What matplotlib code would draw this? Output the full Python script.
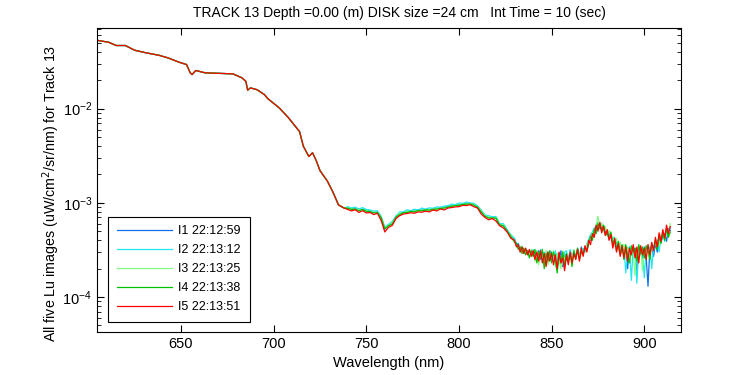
import numpy as np
import matplotlib.pyplot as plt
from matplotlib.ticker import LogLocator, FixedLocator

plt.rcParams['font.family'] = ['Liberation Sans', 'DejaVu Sans']

# Glatter Teil (alle fuenf Aufnahmen praktisch gleich)
wl_head = [605, 611, 615, 620, 625, 631, 638, 643, 649, 653, 655, 656, 658, 663, 678,
           683, 685, 686, 687.5, 691, 695, 697, 703, 708, 714, 716, 719, 721, 723, 725,
           729, 732, 735, 738]
lu_head = [0.0530, 0.0507, 0.0468, 0.0468, 0.0417, 0.0392, 0.0369, 0.0346, 0.0311, 0.0294,
           0.0240, 0.0230, 0.0254, 0.0240, 0.0234, 0.0212, 0.0195, 0.0157, 0.0166, 0.0159,
           0.0141, 0.0127, 0.0102, 0.0080, 0.0057, 0.0040, 0.0031, 0.0034, 0.0028, 0.0022,
           0.0017, 0.0013, 0.00095, 0.00088]

# 740-828 nm alle 2 nm, 830-914 nm jedes nm (Werte in 1e-6 uW/cm2/sr/nm)
wl_mid = list(range(740, 830, 2))
wl_tail = list(range(830, 915))

i1_mid = [885, 870, 870, 850, 855, 835, 820, 795, 800, 710, 525, 585, 610, 720, 765,
          800, 810, 820, 820, 840, 840, 850, 850, 870, 870, 895, 890, 920, 930, 950,
          950, 980, 980, 990, 960, 920, 810, 735, 695, 705, 685, 595, 575, 515, 445]
i2_mid = [910, 880, 900, 860, 890, 850, 840, 815, 825, 720, 550, 590, 635, 720, 800,
          800, 845, 825, 855, 840, 880, 855, 885, 875, 905, 895, 925, 930, 970, 955,
          995, 985, 1020, 995, 990, 925, 840, 740, 730, 710, 715, 600, 600, 515, 460]
i3_mid = [885, 860, 860, 845, 845, 825, 810, 795, 790, 705, 540, 575, 615, 700, 775,
          780, 815, 800, 820, 825, 840, 835, 850, 855, 870, 875, 890, 900, 930, 935,
          950, 965, 980, 975, 960, 905, 815, 725, 705, 690, 695, 585, 580, 500, 450]
i4_mid = [875, 850, 855, 825, 850, 810, 805, 780, 785, 695, 530, 570, 595, 705, 750,
          785, 790, 810, 800, 830, 820, 840, 835, 850, 860, 870, 880, 900, 920, 930,
          940, 960, 970, 970, 945, 900, 800, 720, 690, 690, 685, 580, 570, 500, 440]
i5_mid = [850, 820, 845, 790, 825, 780, 790, 750, 775, 650, 490, 550, 575, 680, 730,
          760, 770, 785, 775, 800, 795, 815, 800, 840, 820, 860, 840, 880, 890, 905,
          910, 940, 935, 955, 910, 880, 760, 700, 660, 680, 640, 570, 540, 490, 420]

i1_tail = [410, 360, 370, 320, 340, 310, 320, 290, 310, 280,
           300, 270, 290, 310, 250, 300, 270, 240, 300, 260,
           300, 250, 240, 290, 230, 310, 210, 290, 250, 240,
           310, 250, 300, 270, 320, 260, 340, 290, 330, 320,
           400, 400, 460, 480, 530, 570, 610, 530, 570, 490,
           490, 480, 420, 430, 350, 380, 350, 340, 310, 320,
           300, 200, 340, 290, 270, 330, 190, 320, 340, 260,
           340, 270, 130, 330, 340, 270, 370, 300, 420, 380,
           450, 470, 390, 530, 510]
i2_tail = [420, 370, 360, 340, 340, 320, 320, 300, 310, 290,
           320, 280, 310, 260, 320, 260, 300, 270, 230, 310,
           280, 240, 310, 230, 290, 260, 220, 300, 310, 250,
           320, 270, 310, 260, 330, 280, 310, 330, 300, 370,
           410, 460, 490, 540, 560, 620, 570, 590, 520, 510,
           500, 440, 470, 390, 430, 340, 380, 320, 300, 350,
           180, 320, 340, 150, 330, 290, 140, 340, 280, 330,
           160, 330, 300, 340, 200, 350, 360, 400, 300, 440,
           470, 390, 510, 480, 540]
i3_tail = [390, 350, 340, 310, 350, 290, 320, 300, 270, 320,
           300, 240, 310, 220, 300, 270, 230, 310, 220, 290,
           270, 310, 210, 290, 250, 200, 310, 240, 290, 230,
           300, 240, 320, 250, 310, 270, 330, 290, 320, 360,
           390, 410, 480, 450, 570, 720, 520, 610, 490, 560,
           460, 510, 420, 440, 350, 420, 310, 380, 290, 360,
           270, 340, 240, 350, 300, 170, 330, 260, 350, 190,
           330, 280, 360, 270, 360, 310, 380, 400, 350, 450,
           480, 410, 520, 450, 600]
i4_tail = [380, 370, 320, 340, 290, 330, 280, 310, 260, 310,
           270, 320, 230, 300, 260, 320, 200, 290, 240, 310,
           230, 300, 250, 180, 290, 230, 300, 210, 290, 240,
           290, 210, 310, 260, 330, 250, 300, 280, 340, 310,
           360, 440, 400, 530, 470, 600, 540, 520, 580, 450,
           480, 410, 490, 350, 410, 310, 390, 280, 360, 250,
           360, 270, 230, 350, 300, 330, 240, 360, 290, 340,
           260, 350, 310, 250, 370, 320, 400, 320, 460, 370,
           480, 400, 540, 430, 490]
i5_tail = [400, 340, 360, 300, 340, 290, 330, 280, 320, 270,
           310, 250, 300, 240, 310, 230, 290, 210, 300, 240,
           290, 220, 280, 200, 300, 230, 260, 190, 280, 220,
           300, 230, 290, 250, 320, 240, 330, 270, 350, 300,
           400, 360, 470, 430, 580, 500, 620, 480, 560, 450,
           520, 400, 460, 330, 420, 300, 370, 270, 350, 260,
           340, 240, 330, 280, 360, 260, 340, 230, 350, 280,
           330, 250, 360, 280, 380, 310, 430, 340, 480, 390,
           520, 420, 580, 470, 560]

labels = ["I1 22:12:59", "I2 22:13:12", "I3 22:13:25", "I4 22:13:38", "I5 22:13:51"]
colors = ["#1070e8", "#20e8f0", "#80ff80", "#00c000", "#ff0000"]
mids = [i1_mid, i2_mid, i3_mid, i4_mid, i5_mid]
tails = [i1_tail, i2_tail, i3_tail, i4_tail, i5_tail]

wl = np.array(wl_head + wl_mid + wl_tail)

fig = plt.figure(figsize=(7.5, 3.75), dpi=100)
ax = fig.add_axes([97/750, 1 - 332/375, 584/750, 304/375])

for mid, tail, lab, col in zip(mids, tails, labels, colors):
    lu = np.concatenate([lu_head, np.array(mid + tail) * 1e-6])
    ax.plot(wl, lu, color=col, lw=0.9, label=lab)

ax.set_yscale("log")
ax.set_xlim(604.7, 919.8)
ax.set_ylim(4.25e-5, 0.0718)
ax.xaxis.set_major_locator(FixedLocator([650, 700, 750, 800, 850, 900]))
ax.yaxis.set_major_locator(LogLocator(base=10, numticks=10))
ax.yaxis.set_minor_locator(LogLocator(base=10, subs=np.arange(2, 10), numticks=20))
ax.tick_params(which="both", direction="in", top=True, right=True, labelsize=10.5)
ax.tick_params(which="major", length=5)
ax.tick_params(which="minor", length=3)
for s in ax.spines.values():
    s.set_linewidth(0.8)

fig.text(399/750, 1 - 13/375, "TRACK 13 Depth =0.00 (m) DISK size =24 cm   Int Time = 10 (sec)",
         ha="center", va="center", fontsize=10)
ax.set_xlabel("Wavelength (nm)", fontsize=10.5)
ax.set_ylabel("All five Lu images (uW/cm$^2$/sr/nm) for Track 13", fontsize=10.3)
ax.yaxis.set_label_coords(-0.06, 0.455)

leg = ax.legend(loc="lower left", bbox_to_anchor=(0.0193, 0.034), borderaxespad=0,
                borderpad=0.7, fontsize=9, handlelength=4.4, handletextpad=0.5,
                labelspacing=0.55, fancybox=False, edgecolor="black", framealpha=1)
leg.get_frame().set_linewidth(0.8)

fig.savefig("out.png", dpi=100)
